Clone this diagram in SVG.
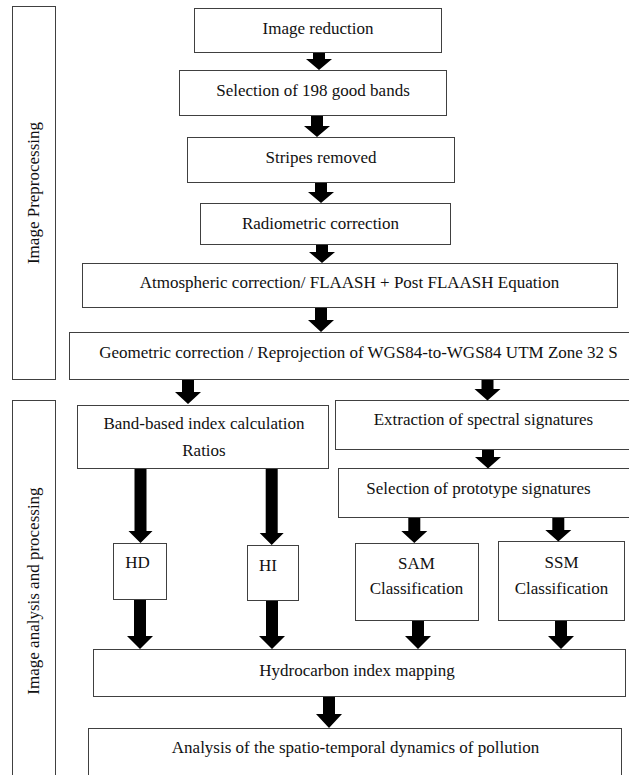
<svg xmlns="http://www.w3.org/2000/svg" width="629" height="775" viewBox="0 0 629 775">
<style>
.box{fill:#fff;stroke:#404040;stroke-width:1}
.t{font-size:17px;fill:#111;text-anchor:middle}
.arr{fill:#000}
</style>
<rect width="629" height="775" fill="#fff"/>
<g font-family="'Liberation Serif', 'DejaVu Serif', serif">
<g id="sidebar-preprocessing">
<rect class="box" x="12.5" y="6.5" width="43" height="373"/>
<text class="t" transform="translate(39,193) rotate(-90)">Image Preprocessing</text>
</g>
<g id="sidebar-analysis">
<rect class="box" x="12.5" y="400.5" width="43" height="390"/>
<text class="t" transform="translate(39,591) rotate(-90)">Image analysis and processing</text>
</g>
<g id="n-image-reduction">
<rect class="box" x="194.5" y="8.5" width="247" height="44"/>
<text class="t" x="318" y="33.5">Image reduction</text>
</g>
<g id="n-selection-bands">
<rect class="box" x="179.5" y="70.5" width="267" height="45"/>
<text class="t" x="313" y="96">Selection of 198 good bands</text>
</g>
<g id="n-stripes">
<rect class="box" x="187.5" y="137.5" width="267" height="45"/>
<text class="t" x="321" y="162.5">Stripes removed</text>
</g>
<g id="n-radiometric">
<rect class="box" x="200.5" y="203.5" width="250" height="41"/>
<text class="t" x="320.5" y="228.5">Radiometric correction</text>
</g>
<g id="n-atmospheric">
<rect class="box" x="82.5" y="263.5" width="535" height="44"/>
<text class="t" x="349.5" y="288">Atmospheric correction/ FLAASH + Post FLAASH Equation</text>
</g>
<g id="n-geometric">
<rect class="box" x="69.5" y="332.5" width="600" height="47"/>
<text class="t" x="358.5" y="357.5">Geometric correction / Reprojection of WGS84-to-WGS84 UTM Zone 32 S</text>
</g>
<g id="n-band-index">
<rect class="box" x="77.5" y="405.5" width="251" height="63"/>
<text class="t" x="204" y="429">Band-based index calculation</text>
<text class="t" x="204" y="456">Ratios</text>
</g>
<g id="n-extraction">
<rect class="box" x="335.5" y="400.5" width="330" height="49"/>
<text class="t" x="483.5" y="425">Extraction of spectral signatures</text>
</g>
<g id="n-prototype">
<rect class="box" x="338.5" y="468.5" width="330" height="49"/>
<text class="t" x="478.5" y="493.5">Selection of prototype signatures</text>
</g>
<g id="n-hd">
<rect class="box" x="113.5" y="543.5" width="53" height="56"/>
<text class="t" x="137.5" y="568">HD</text>
</g>
<g id="n-hi">
<rect class="box" x="247.5" y="545.5" width="51" height="55"/>
<text class="t" x="268" y="570.5">HI</text>
</g>
<g id="n-sam">
<rect class="box" x="355.5" y="543.5" width="123" height="77"/>
<text class="t" x="416.5" y="568.5">SAM</text>
<text class="t" x="416.5" y="594">Classification</text>
</g>
<g id="n-ssm">
<rect class="box" x="498.5" y="541.5" width="126" height="79"/>
<text class="t" x="561.5" y="567.5">SSM</text>
<text class="t" x="561.5" y="593.5">Classification</text>
</g>
<g id="n-hydrocarbon">
<rect class="box" x="93.5" y="649.5" width="532" height="47"/>
<text class="t" x="357" y="676">Hydrocarbon index mapping</text>
</g>
<g id="n-analysis">
<rect class="box" x="88.5" y="728.5" width="533" height="60"/>
<text class="t" x="355.5" y="753">Analysis of the spatio-temporal dynamics of pollution</text>
</g>
</g>
<g id="connectors" class="arr">
<path d="M313,53 H325 V59 H332 L319,70 L306,59 H313 Z"/>
<path d="M311,116 H323 V126 H330 L317,137 L304,126 H311 Z"/>
<path d="M315,183 H327 V192 H334 L321,203 L308,192 H315 Z"/>
<path d="M316,245 H328 V252 H335 L322,263 L309,252 H316 Z"/>
<path d="M315,308 H327 V320 H334 L321,332 L308,320 H315 Z"/>
<path d="M182,380 H194 V392 H201 L188,404 L175,392 H182 Z"/>
<path d="M481.5,380 H493.5 V389 H500.5 L487.5,400.5 L474.5,389 H481.5 Z"/>
<path d="M482,450 H494 V457 H501 L488,468.5 L475,457 H482 Z"/>
<path d="M134.5,469 H146.5 V531 H152.5 L140.5,543 L128.5,531 H134.5 Z"/>
<path d="M265.7,469 H277.7 V533 H283.7 L271.7,545 L259.7,533 H265.7 Z"/>
<path d="M408.3,518 H420.3 V531 H427.3 L414.3,543 L401.3,531 H408.3 Z"/>
<path d="M552.3,518 H564.3 V530 H571.3 L558.3,541.5 L545.3,530 H552.3 Z"/>
<path d="M134,600 H146 V636 H153 L140,649 L127,636 H134 Z"/>
<path d="M266,601 H278 V636 H285 L272,649 L259,636 H266 Z"/>
<path d="M412,621 H424 V636 H431 L418,649 L405,636 H412 Z"/>
<path d="M555,621 H567 V636 H574 L561,649 L548,636 H555 Z"/>
<path d="M323,697 H335 V714 H342 L329,728 L316,714 H323 Z"/>
</g>
</svg>
